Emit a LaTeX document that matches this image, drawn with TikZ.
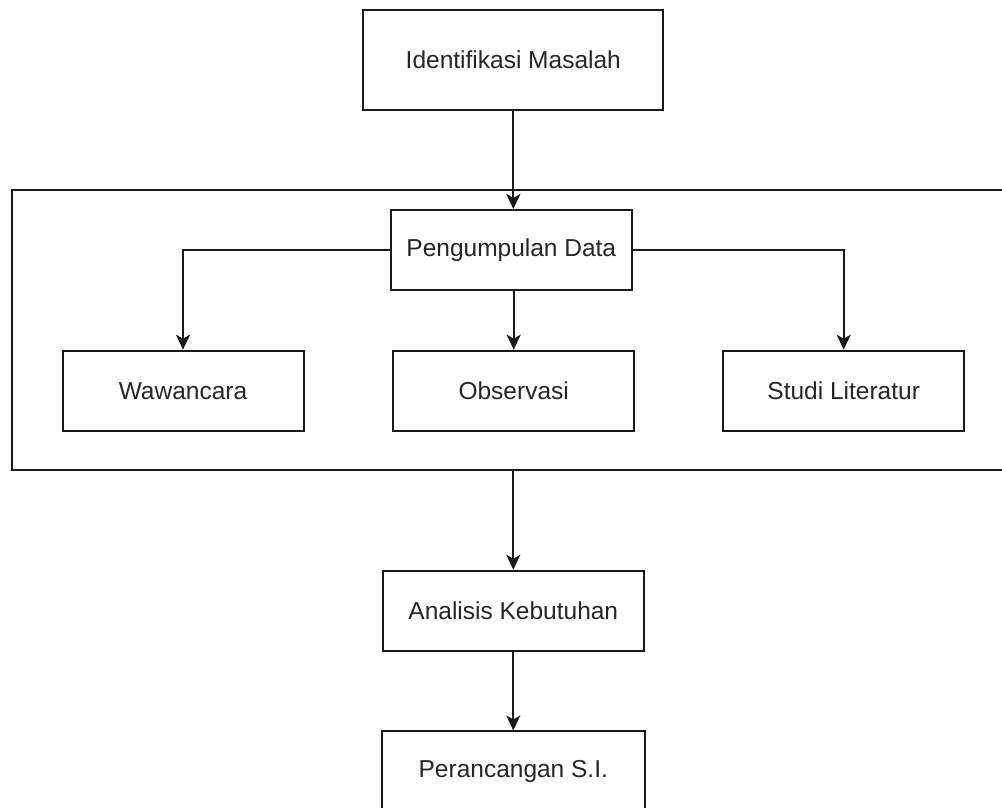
\documentclass[tikz,border=0pt]{standalone}
\usepackage{fontspec}
\setmainfont{Liberation Sans}
\usetikzlibrary{arrows.meta}
\begin{document}
\begin{tikzpicture}[x=1pt,y=-1pt,
  box/.style={draw=black!90, line width=2pt, fill=white, inner sep=0pt,
    font=\fontsize{24.5}{29}\selectfont, text=black!85},
  flow/.style={line width=2pt, draw=black!90,
    -{Stealth[length=15pt,width=14pt,inset=4pt]}}]
\useasboundingbox (0,0) rectangle (1002,807);
\fill[white] (0,0) rectangle (1002,807);
% outer group (open at the right, clipped by the page edge)
\node[minimum width=994pt, minimum height=280pt, inner sep=0pt] (outer) at (509,330) {};
\draw[line width=2pt, draw=black!90] (outer.north east) -- (outer.north west) -- (outer.south west) -- (outer.south east);
% nodes
\node[box, minimum width=300pt, minimum height=100pt] (idm) at (513.3,60) {Identifikasi Masalah};
\node[box, minimum width=241pt, minimum height=80pt] (pd) at (511.3,250) {Pengumpulan Data};
\node[box, minimum width=241pt, minimum height=80pt] (waw) at (183,390.7) {Wawancara};
\node[box, minimum width=241pt, minimum height=80pt] (obs) at (513.7,390.7) {Observasi};
\node[box, minimum width=241pt, minimum height=80pt] (stl) at (843.7,390.7) {Studi Literatur};
\node[box, minimum width=261pt, minimum height=80pt] (ana) at (513.3,610.8) {Analisis Kebutuhan};
\node[box, draw=none, minimum width=261pt, minimum height=80pt] (per) at (513.3,771.5) {Perancangan S.I.};
\draw[line width=2pt, draw=black!90] (per.south west) -- (per.north west) -- (per.north east) -- (per.south east);
% connectors
\draw[flow] (idm.south) -- (idm.south |- pd.north);
\draw[flow] (pd.west) -| (waw.north);
\draw[flow] (obs.north |- pd.south) -- (obs.north);
\draw[flow] (pd.east) -| (stl.north);
\draw[flow] (ana.north |- outer.south) -- (ana.north);
\draw[flow] (ana.south) -- (per.north);
\end{tikzpicture}
\end{document}
